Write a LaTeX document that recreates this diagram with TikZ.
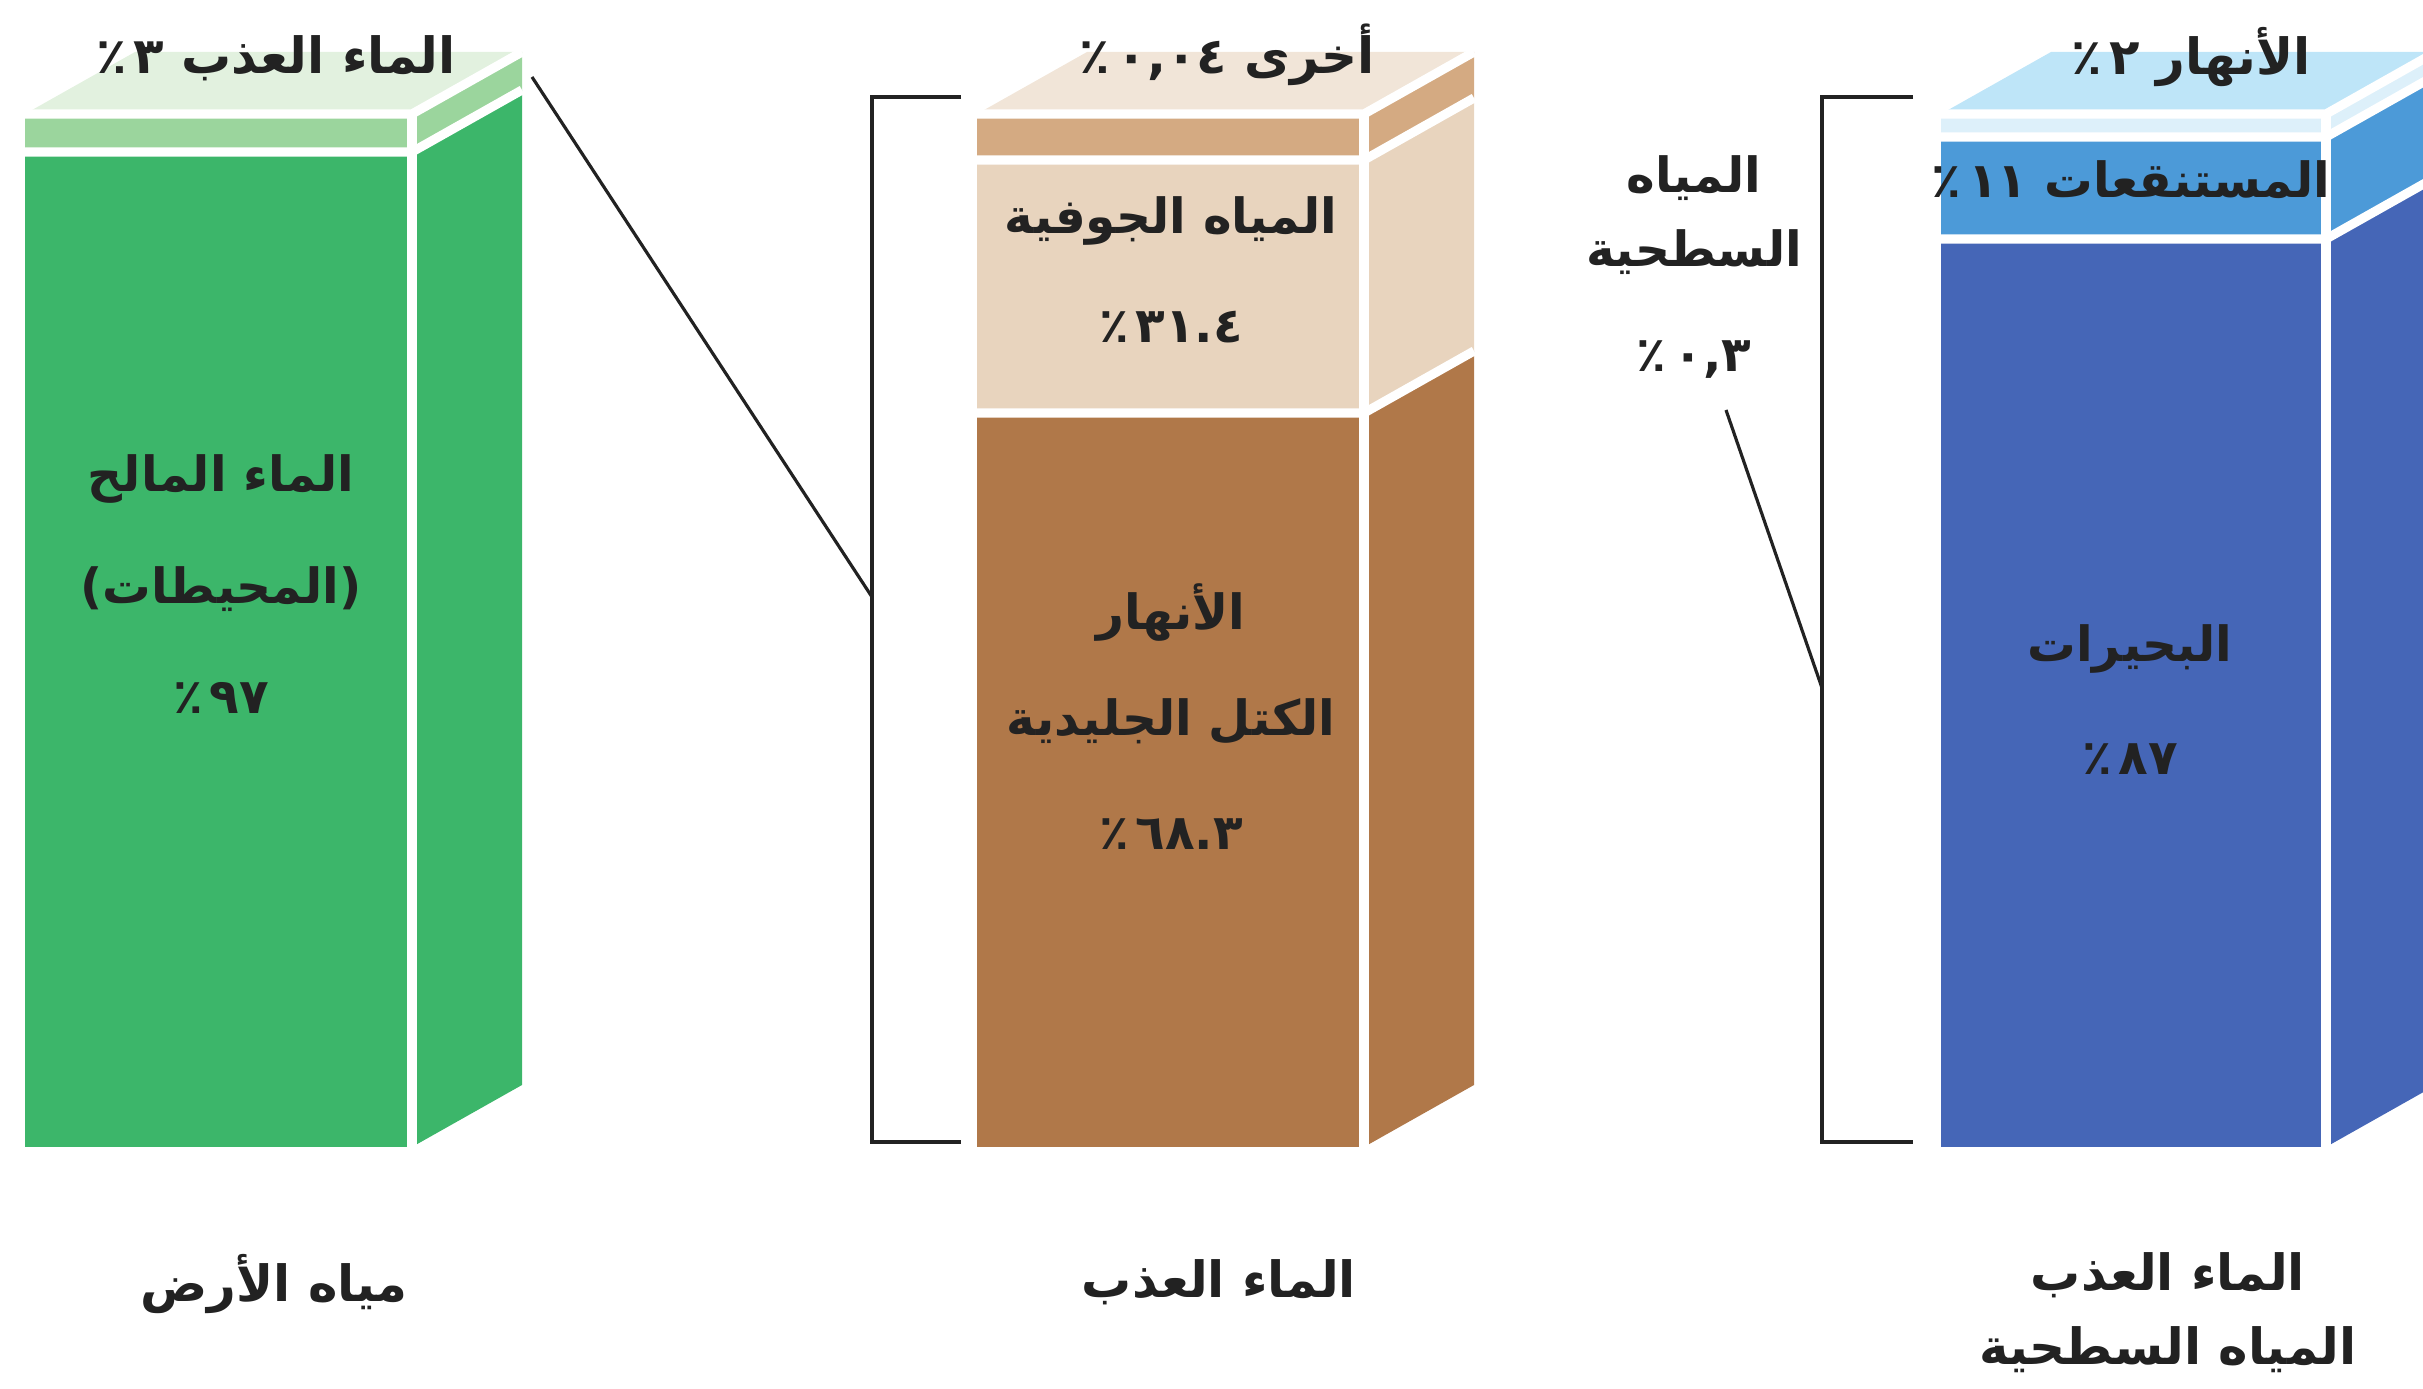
\documentclass[tikz,border=0pt]{standalone}
\usepackage{fontspec}
\usetikzlibrary{positioning}
\newfontfamily\arabicfont[Script=Arabic]{DejaVu Sans}
\TeXXeTstate=1

% colours of the three columns
\definecolor{seagreen}{HTML}{3CB66A}
\definecolor{seaband}{HTML}{9BD59D}
\definecolor{seatop}{HTML}{E2F1DF}
\definecolor{icebrown}{HTML}{B07849}
\definecolor{groundtan}{HTML}{E8D4BE}
\definecolor{otherband}{HTML}{D4AA82}
\definecolor{tantop}{HTML}{F1E5D8}
\definecolor{lakeblue}{HTML}{4566B7}
\definecolor{swampblue}{HTML}{4C9AD8}
\definecolor{riverband}{HTML}{DDF0FA}
\definecolor{rivertop}{HTML}{BEE5F8}
\definecolor{inkgrey}{HTML}{222222}

\newcommand{\artext}[1]{\beginR #1\endR}
\newcommand{\pct}[1]{\beginR#1\kern2pt٪\endR}

\begin{document}
\begin{tikzpicture}[x=0.01cm, y=-0.01cm,
    lbl/.style={font=\arabicfont\bfseries\fontsize{13.8}{18}\selectfont, text=inkgrey, inner sep=1pt},
    toplbl/.style={lbl, font=\arabicfont\bfseries\fontsize{14.2}{18}\selectfont},
    seam/.style={white, line width=2.6pt},
    bracket/.style={inkgrey, line width=1.1pt}]

\useasboundingbox (0,0) rectangle (2423,1389);
\clip (0,0) rectangle (2423,1389);

% front and side of every layer
\foreach \lx/\rx/\ya/\yb/\col in {
    25/412/114/152/seaband,
    25/412/152/1147/seagreen,
    977/1364/114/160/otherband,
    977/1364/160/413/groundtan,
    977/1364/413/1147/icebrown,
    1941/2326/114/137/riverband,
    1941/2326/137/239/swampblue,
    1941/2326/239/1147/lakeblue} {
    \fill[\col] (\lx,\ya) rectangle (\rx,\yb);
    \fill[\col] (\rx,\ya) -- ++(110,-62) -- (\rx+110,\yb-62) -- (\rx,\yb) -- cycle;
  }

% top faces
\foreach \lx/\rx/\col in {25/412/seatop, 977/1364/tantop, 1941/2326/rivertop}
  \fill[\col] (\lx,114) -- (\rx,114) -- ++(110,-62) -- (\lx+110,52) -- cycle;

% white seams between the layers
\foreach \lx/\rx/\y in {25/412/114, 25/412/152, 977/1364/114, 977/1364/160,
    977/1364/413, 1941/2326/114, 1941/2326/137, 1941/2326/239}
  \draw[seam] (\lx,\y) -- (\rx,\y) -- ++(110,-62);
\foreach \rx in {412,1364,2326}
  \draw[seam] (\rx,114) -- (\rx,1150);

% brackets
\draw[bracket] (961,97) -- (872,97) -- (872,1142) -- (961,1142);
\draw[bracket, line width=0.9pt] (1913,97) -- (1822,97) -- (1822,1142) -- (1913,1142);

\coordinate (greencorner) at (532,77);
\coordinate (midbrace) at (872,597);
\coordinate (surftip) at (1726,410);
\coordinate (rightbrace) at (1822,688);

\draw[bracket, line width=0.9pt] (greencorner) -- (midbrace);
\draw[bracket, line width=0.9pt] (surftip) -- (rightbrace);

% labels on the top faces
\node[toplbl] (freshtop) at (276,58) {\artext{الماء العذب \pct{٣}}};
\node[toplbl] (othertop) at (1227,55) {\artext{أخرى \pct{٠,٠٤}}};
\node[toplbl] (rivertop) at (2191,57) {\artext{الأنهار \pct{٢}}};

% labels inside the columns
\node[lbl] (saltname) at (221,479) {\artext{الماء المالح}};
\node[lbl] (oceanname) at (221,589) {\artext{(المحيطات)}};
\node[lbl] (saltpct) at (221,698) {\pct{٩٧}};

\node[lbl] (groundname) at (1171,221) {\artext{المياه الجوفية}};
\node[lbl] (groundpct) at (1171,327) {\pct{٣١.٤}};
\node[lbl] (rivername) at (1171,613) {\artext{الأنهار}};
\node[lbl] (icename) at (1171,722) {\artext{الكتل الجليدية}};
\node[lbl] (icepct) at (1171,834) {\pct{٦٨.٣}};

\node[lbl] (swampname) at (2131,180) {\artext{المستنقعات \pct{١١}}};
\node[lbl] (lakename) at (2130,649) {\artext{البحيرات}};
\node[lbl] (lakepct) at (2130,759) {\pct{٨٧}};

% surface water note
\node[lbl, align=center] (surfname) at (1694,215) {\artext{المياه}\\[3pt]\artext{السطحية}};
\node[lbl] (surfpct) at (1694,360) {\pct{٠,٣}};

% captions under the columns
\node[toplbl] (earthcap) at (274,1284) {\artext{مياه الأرض}};
\node[toplbl] (freshcap) at (1219,1282) {\artext{الماء العذب}};
\node[toplbl, align=center] (surfcap) at (2168,1313) {\artext{الماء العذب}\\[3pt]\artext{المياه السطحية}};

\end{tikzpicture}
\end{document}
